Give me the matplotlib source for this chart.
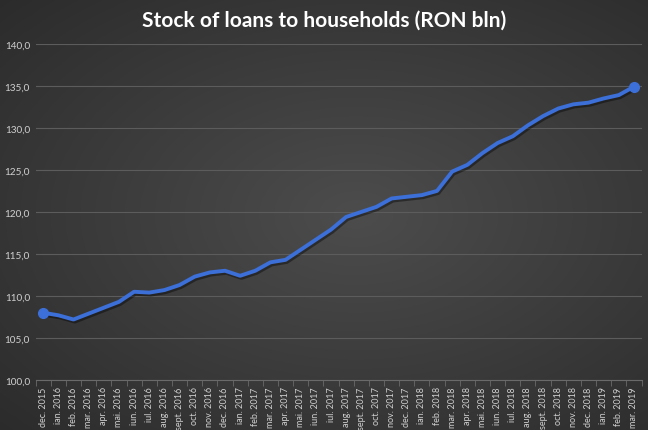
import numpy as np
import matplotlib
matplotlib.use('Agg')
import matplotlib.pyplot as plt
from matplotlib.ticker import FuncFormatter, MultipleLocator
import matplotlib.patheffects as pe

plt.rcParams['font.family'] = ['Lato', 'DejaVu Sans']

# month labels (as on the original chart)
months = ['dec. 2015', 'ian. 2016', 'feb. 2016', 'mar. 2016', 'apr. 2016', 'mai. 2016',
          'iun. 2016', 'iul. 2016', 'aug. 2016', 'sept. 2016', 'oct. 2016', 'nov. 2016',
          'dec. 2016', 'ian. 2017', 'feb. 2017', 'mar. 2017', 'apr. 2017', 'mai. 2017',
          'iun. 2017', 'iul. 2017', 'aug. 2017', 'sept. 2017', 'oct. 2017', 'nov. 2017',
          'dec. 2017', 'ian. 2018', 'feb. 2018', 'mar. 2018', 'apr. 2018', 'mai. 2018',
          'iun. 2018', 'iul. 2018', 'aug. 2018', 'sept. 2018', 'oct. 2018', 'nov. 2018',
          'dec. 2018', 'ian. 2019', 'feb. 2019', 'mar. 2019']

# stock of loans, RON bln
loans = [108.0, 107.7, 107.2, 107.9, 108.6, 109.3,
         110.5, 110.4, 110.7, 111.3, 112.3, 112.8,
         113.0, 112.4, 113.0, 114.0, 114.3, 115.5,
         116.7, 117.9, 119.4, 120.0, 120.6, 121.6,
         121.8, 122.0, 122.5, 124.8, 125.6, 127.0,
         128.2, 129.0, 130.3, 131.4, 132.3, 132.8,
         133.0, 133.5, 133.9, 134.9]

fig = plt.figure(figsize=(6.48, 4.31), dpi=100)

# radial gradient background
bg = fig.add_axes([0, 0, 1, 1], zorder=-1)
yy, xx = np.mgrid[-1:1:300j, -1:1:450j]
r = np.sqrt(((xx - 0.1) * 0.85) ** 2 + (yy * 0.9) ** 2)
shade = 0.30 - 0.14 * np.clip(r, 0, 1.4) / 1.4
bg.imshow(np.dstack([shade] * 3), aspect='auto', extent=[0, 1, 0, 1])
bg.axis('off')

ax = fig.add_axes([0.055, 0.116, 0.935, 0.78])
ax.patch.set_alpha(0)

x = np.arange(len(loans))
ax.plot(x, loans, color='#3c6fd8', lw=2.8, solid_joinstyle='round', zorder=3,
        path_effects=[pe.SimpleLineShadow(offset=(1, -1.5), alpha=0.4), pe.Normal()])
ax.plot([x[0], x[-1]], [loans[0], loans[-1]], 'o', color='#3c6fd8', ms=7, zorder=4)

ax.set_xlim(-0.5, len(loans) - 0.5)
ax.set_ylim(100, 140)
ax.yaxis.set_major_locator(MultipleLocator(5))
ax.yaxis.set_major_formatter(FuncFormatter(lambda v, p: f'{v:.1f}'.replace('.', ',')))
ax.grid(axis='y', color='#5c5c5c', lw=0.8)
ax.set_axisbelow(True)

ax.set_xticks(x)
ax.set_xticklabels(months, rotation=90, fontsize=6.5, color='#d0d0d0')
ax.set_xticks(np.arange(-0.5, len(loans), 1), minor=True)
ax.tick_params(axis='x', which='major', length=0, pad=4.5)
ax.tick_params(axis='x', which='minor', length=4, color='#6a6a6a')
ax.tick_params(axis='y', length=0, labelsize=7.2, labelcolor='#d0d0d0', pad=4)

for s in ['top', 'right', 'left']:
    ax.spines[s].set_visible(False)
ax.spines['bottom'].set_color('#6a6a6a')

fig.text(0.5, 0.952, 'Stock of loans to households (RON bln)', ha='center', va='center',
         color='white', fontsize=15, fontweight='bold')

fig.savefig('out.png', dpi=100)
